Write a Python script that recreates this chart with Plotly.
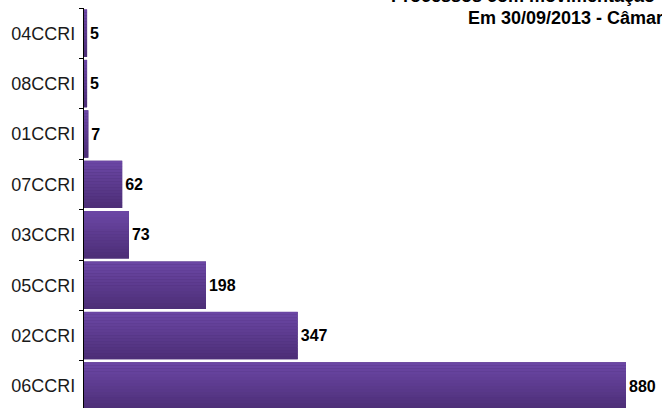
import plotly.graph_objects as go

# Data (bottom to top)
categories = ["06CCRI", "02CCRI", "05CCRI", "03CCRI", "07CCRI", "01CCRI", "08CCRI", "04CCRI"]
values = [880, 347, 198, 73, 62, 7, 5, 5]
title_line1 = "Processos com movimentação"
title_line2 = "Em 30/09/2013 - Câmara Criminal"

W, H = 662, 408
ML, MT = 84, 8
plot_w = W - ML
plot_h = H - MT

bar_w = 0.94
n_bands = 16
top_rgb = (108, 71, 166)
bot_rgb = (76, 46, 118)
FONT = "Liberation Sans, Arial, sans-serif"

fig = go.Figure()

# base bar with labels
fig.add_trace(go.Bar(
    y=categories, x=values, orientation="h",
    width=bar_w,
    marker=dict(color="rgb(%d,%d,%d)" % bot_rgb, line=dict(width=0)),
    text=values, texttemplate="<b>%{x}</b>", textposition="outside",
    textfont=dict(family=FONT, size=16, color="#000000"),
    cliponaxis=False, hoverinfo="skip", showlegend=False,
))

# gradient bands
bh = bar_w / n_bands
for k in range(n_bands):
    t = (k + 0.5) / n_bands
    c = tuple(int(round(bot_rgb[i] + (top_rgb[i] - bot_rgb[i]) * t)) for i in range(3))
    fig.add_trace(go.Bar(
        y=categories, x=values, orientation="h",
        width=bh * 1.02, offset=-bar_w / 2 + k * bh,
        marker=dict(color="rgb(%d,%d,%d)" % c, line=dict(width=0)),
        hoverinfo="skip", showlegend=False,
    ))

xmax = 880 * plot_w / 542.0
span = plot_h / 50.4

fig.update_layout(
    width=W, height=H,
    margin=dict(l=ML, r=0, t=MT, b=0, pad=0, autoexpand=False),
    barmode="overlay",
    plot_bgcolor="white", paper_bgcolor="white",
    font=dict(family=FONT, size=17, color="#1a1a1a"),
    xaxis=dict(range=[0, xmax], visible=False, showgrid=False, zeroline=False, automargin=False),
    yaxis=dict(
        type="category", categoryorder="array", categoryarray=categories,
        range=[7.5 - span, 7.5], automargin=False,
        showline=True, linecolor="#000000", linewidth=1.3,
        ticks="outside", ticklen=4, tickcolor="#000000", tickwidth=1.3,
        tickson="boundaries", showgrid=False, zeroline=False,
        ticklabelstandoff=4,
        tickfont=dict(family=FONT, size=18, color="#1a1a1a"),
    ),
    showlegend=False,
)

def px_to_paper_x(px):
    return (px - ML) / plot_w

def px_to_paper_y(py):
    return 1 - (py - MT) / plot_h

fig.add_annotation(text="<b>" + title_line1 + "</b>", xref="paper", yref="paper",
                   x=px_to_paper_x(389), y=px_to_paper_y(-4), xanchor="left", yanchor="middle",
                   showarrow=False, font=dict(family=FONT, size=18, color="#000000"))
fig.add_annotation(text="<b>" + title_line2 + "</b>", xref="paper", yref="paper",
                   x=px_to_paper_x(466), y=px_to_paper_y(18), xanchor="left", yanchor="middle",
                   showarrow=False, font=dict(family=FONT, size=18, color="#000000"))

fig.write_html("out.html",
               config={"displayModeBar": False},
               post_script="document.body.style.margin='0';document.body.style.overflow='hidden';")
